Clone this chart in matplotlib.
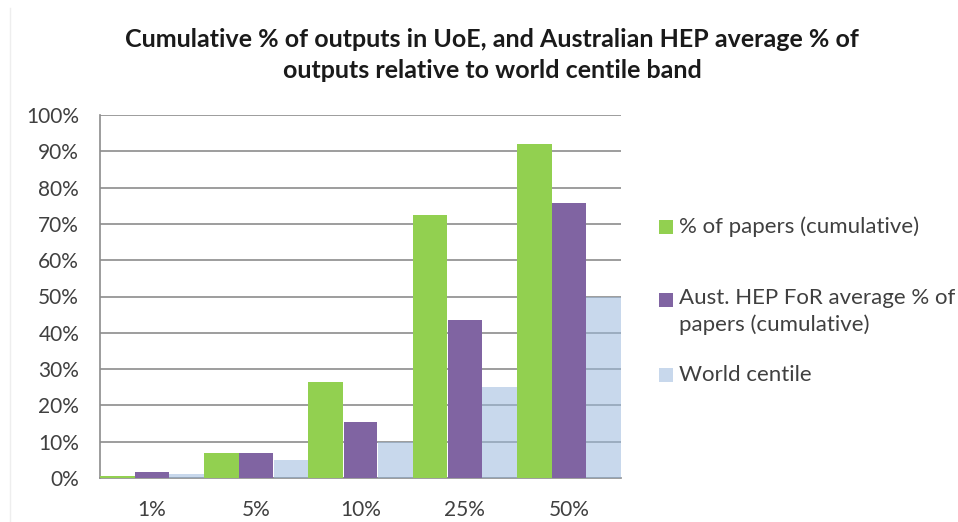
import matplotlib
matplotlib.use("Agg")
import numpy as np
import matplotlib.pyplot as plt
from matplotlib.ticker import FuncFormatter
from matplotlib.lines import Line2D

# centile bands and series (percent)
bands = ['1%', '5%', '10%', '25%', '50%']
papers_cum = [0.6, 7, 26.5, 72.5, 92]
aust_hep_cum = [1.6, 7, 15.5, 43.5, 75.7]
world_centile = [1, 5, 10, 25, 50]

labels = ['% of papers (cumulative)',
          'Aust. HEP FoR average % of\npapers (cumulative)',
          'World centile']

plt.rcParams['font.family'] = ['Lato', 'DejaVu Sans']

fig = plt.figure(figsize=(9.58, 5.22), dpi=100)
ax = fig.add_axes([100 / 958, 1 - 478 / 522, 521 / 958, 363 / 522])

x = np.arange(len(bands))
w = 1 / 3
ax.set_axisbelow(True)
ax.yaxis.grid(True, color='#8c8c8c', linewidth=1.2)
ax.bar(x - w, papers_cum, width=w, color='#92D050', edgecolor='none',
       label=labels[0], zorder=3)
ax.bar(x, aust_hep_cum, width=w * 0.97, color='#8064A2', edgecolor='none',
       label=labels[1], zorder=3)
ax.bar(x + w, world_centile, width=w, color='#9BB9DD', alpha=0.55, linewidth=0,
       label=labels[2], zorder=4)

ax.set_xlim(-0.5, len(bands) - 0.5)
ax.set_ylim(0, 100)
ax.set_yticks(np.arange(0, 101, 10))
ax.yaxis.set_major_formatter(FuncFormatter(lambda v, p: f'{v:.0f}%'))
ax.set_xticks(x)
ax.set_xticklabels(bands)
ax.tick_params(axis='both', length=0, labelsize=15, colors='#404040')
ax.tick_params(axis='x', pad=16)
ax.tick_params(axis='y', pad=15)
for s in ['top', 'right']:
    ax.spines[s].set_visible(False)
for s in ['left', 'bottom']:
    ax.spines[s].set_color('#8c8c8c')
    ax.spines[s].set_linewidth(1.2)

fig.text(492 / 958, 1 - 55 / 522,
         'Cumulative % of outputs in UoE, and Australian HEP average % of\n'
         'outputs relative to world centile band',
         ha='center', va='center', fontsize=18, fontweight='bold', linespacing=1.4,
         color='#1a1a1a')

# legend, placed by hand
leg_y = [227, 300, 375]
for i, lab in enumerate(labels):
    fc = ax.containers[i].patches[0].get_facecolor()
    fig.patches.append(plt.Rectangle((659 / 958, 1 - (leg_y[i] + 7) / 522), 14 / 958, 14 / 522,
                                     transform=fig.transFigure, facecolor=fc, edgecolor='none'))
    fig.text(679 / 958, 1 - (leg_y[i] - 12) / 522 if i == 1 else 1 - leg_y[i] / 522, lab,
             ha='left', va='top' if i == 1 else 'center',
             fontsize=16, color='#404040', linespacing=1.4)

fig.add_artist(Line2D([10 / 958, 10 / 958], [0, 1 - 8 / 522], transform=fig.transFigure,
                      color='#eeeeee', linewidth=1))

fig.savefig('out.png', dpi=100)
